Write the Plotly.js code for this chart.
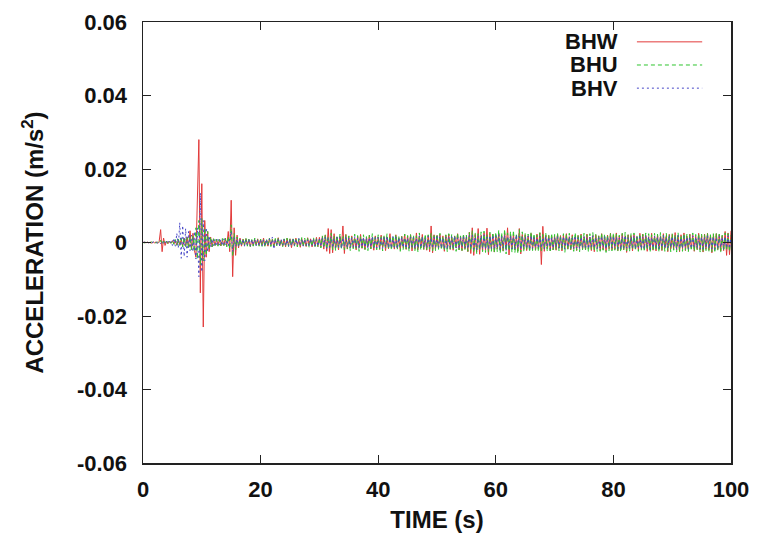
<!DOCTYPE html>
<html>
<head>
<meta charset="utf-8">
<script src="https://cdn.plot.ly/plotly-3.0.1.min.js"></script>
<style>
  html, body { margin: 0; padding: 0; background: #fff; }
  #chart { width: 757px; height: 534px; }
</style>
</head>
<body>
<div id="chart"></div>
<script>
// Time axis (s), 0.25 s sampling
const TIME = [
  0, 0.25, 0.5, 0.75, 1, 1.25, 1.5, 1.75, 2, 2.25, 2.5, 2.75, 3, 3.25, 3.5, 3.75, 4, 4.25, 4.5, 4.75,
  5, 5.25, 5.5, 5.75, 6, 6.25, 6.5, 6.75, 7, 7.25, 7.5, 7.75, 8, 8.25, 8.5, 8.75, 9, 9.25, 9.5, 9.75,
  10, 10.25, 10.5, 10.75, 11, 11.25, 11.5, 11.75, 12, 12.25, 12.5, 12.75, 13, 13.25, 13.5, 13.75, 14, 14.25, 14.5, 14.75,
  15, 15.25, 15.5, 15.75, 16, 16.25, 16.5, 16.75, 17, 17.25, 17.5, 17.75, 18, 18.25, 18.5, 18.75, 19, 19.25, 19.5, 19.75,
  20, 20.25, 20.5, 20.75, 21, 21.25, 21.5, 21.75, 22, 22.25, 22.5, 22.75, 23, 23.25, 23.5, 23.75, 24, 24.25, 24.5, 24.75,
  25, 25.25, 25.5, 25.75, 26, 26.25, 26.5, 26.75, 27, 27.25, 27.5, 27.75, 28, 28.25, 28.5, 28.75, 29, 29.25, 29.5, 29.75,
  30, 30.25, 30.5, 30.75, 31, 31.25, 31.5, 31.75, 32, 32.25, 32.5, 32.75, 33, 33.25, 33.5, 33.75, 34, 34.25, 34.5, 34.75,
  35, 35.25, 35.5, 35.75, 36, 36.25, 36.5, 36.75, 37, 37.25, 37.5, 37.75, 38, 38.25, 38.5, 38.75, 39, 39.25, 39.5, 39.75,
  40, 40.25, 40.5, 40.75, 41, 41.25, 41.5, 41.75, 42, 42.25, 42.5, 42.75, 43, 43.25, 43.5, 43.75, 44, 44.25, 44.5, 44.75,
  45, 45.25, 45.5, 45.75, 46, 46.25, 46.5, 46.75, 47, 47.25, 47.5, 47.75, 48, 48.25, 48.5, 48.75, 49, 49.25, 49.5, 49.75,
  50, 50.25, 50.5, 50.75, 51, 51.25, 51.5, 51.75, 52, 52.25, 52.5, 52.75, 53, 53.25, 53.5, 53.75, 54, 54.25, 54.5, 54.75,
  55, 55.25, 55.5, 55.75, 56, 56.25, 56.5, 56.75, 57, 57.25, 57.5, 57.75, 58, 58.25, 58.5, 58.75, 59, 59.25, 59.5, 59.75,
  60, 60.25, 60.5, 60.75, 61, 61.25, 61.5, 61.75, 62, 62.25, 62.5, 62.75, 63, 63.25, 63.5, 63.75, 64, 64.25, 64.5, 64.75,
  65, 65.25, 65.5, 65.75, 66, 66.25, 66.5, 66.75, 67, 67.25, 67.5, 67.75, 68, 68.25, 68.5, 68.75, 69, 69.25, 69.5, 69.75,
  70, 70.25, 70.5, 70.75, 71, 71.25, 71.5, 71.75, 72, 72.25, 72.5, 72.75, 73, 73.25, 73.5, 73.75, 74, 74.25, 74.5, 74.75,
  75, 75.25, 75.5, 75.75, 76, 76.25, 76.5, 76.75, 77, 77.25, 77.5, 77.75, 78, 78.25, 78.5, 78.75, 79, 79.25, 79.5, 79.75,
  80, 80.25, 80.5, 80.75, 81, 81.25, 81.5, 81.75, 82, 82.25, 82.5, 82.75, 83, 83.25, 83.5, 83.75, 84, 84.25, 84.5, 84.75,
  85, 85.25, 85.5, 85.75, 86, 86.25, 86.5, 86.75, 87, 87.25, 87.5, 87.75, 88, 88.25, 88.5, 88.75, 89, 89.25, 89.5, 89.75,
  90, 90.25, 90.5, 90.75, 91, 91.25, 91.5, 91.75, 92, 92.25, 92.5, 92.75, 93, 93.25, 93.5, 93.75, 94, 94.25, 94.5, 94.75,
  95, 95.25, 95.5, 95.75, 96, 96.25, 96.5, 96.75, 97, 97.25, 97.5, 97.75, 98, 98.25, 98.5, 98.75, 99, 99.25, 99.5, 99.75,
  100
];

// Acceleration (m/s^2), channel BHW
const BHW = [
  0, 0.0001, -0.0001, 0.0001, -0.0001, 0.0001, -0.0002, 0.0001, -0.0001, 0.0002, -0.0002, 0.0003, 0.0035, -0.0025, 0.0012, -0.0008, 0.0004, -0.0003, 0.0003, -0.0002,
  0.0005, -0.0004, 0.0006, -0.0007, 0.0008, -0.0006, 0.0009, -0.0011, 0.0012, -0.001, 0.0015, -0.0013, 0.0032, -0.0018, 0.0025, -0.0022, -0.004, 0.012, 0.028, -0.0137,
  0.016, -0.023, 0.006, -0.004, 0.003, -0.0025, 0.0015, -0.0012, 0.001, -0.0008, 0.0009, -0.0007, 0.0008, -0.0009, 0.0007, -0.0008, 0.0012, -0.0009, 0.003, -0.0025,
  0.0115, -0.0093, 0.004, -0.0035, 0.002, -0.0015, 0.0012, -0.001, 0.0009, -0.0008, 0.001, -0.0007, 0.0008, -0.0011, 0.0007, -0.0009, 0.0008, -0.0006, 0.001, -0.0008,
  0.0009, -0.0007, 0.0012, -0.0009, 0.0006, -0.001, 0.0011, -0.0008, 0.0009, -0.0012, 0.0008, -0.0007, 0.0013, -0.0009, 0.0007, -0.001, 0.0009, -0.0012, 0.0011, -0.0008,
  0.001, -0.0014, 0.0009, -0.0008, 0.0012, -0.001, 0.0008, -0.0013, 0.0011, -0.0009, 0.0007, -0.0011, 0.0013, -0.0008, 0.001, -0.0012, 0.0009, -0.001, 0.0014, -0.0011,
  0.0014, -0.0012, 0.0016, -0.0018, 0.002, -0.0024, 0.0038, -0.003, 0.0035, -0.0028, 0.0024, -0.0016, 0.0015, -0.002, 0.0017, -0.0013, 0.0045, -0.003, 0.0022, -0.0018,
  0.0016, -0.0013, 0.0018, -0.0015, 0.0012, -0.002, 0.0017, -0.0014, 0.0022, -0.0016, 0.0011, -0.0019, 0.0015, -0.0012, 0.002, -0.0017, 0.0013, -0.0021, 0.0018, -0.0014,
  0.0015, -0.0019, 0.002, -0.0013, 0.0016, -0.0022, 0.0014, -0.0017, 0.0024, -0.0015, 0.0012, -0.0018, 0.0021, -0.0016, 0.0013, -0.002, 0.0017, -0.0014, 0.0023, -0.0019,
  0.0018, -0.0016, 0.0021, -0.0023, 0.0015, -0.0018, 0.0026, -0.002, 0.0017, -0.0015, 0.0022, -0.0019, 0.0014, -0.0021, 0.0019, -0.0025, 0.0045, -0.0028, 0.0021, -0.0017,
  0.0019, -0.0017, 0.0022, -0.0015, 0.0018, -0.0024, 0.002, -0.0016, 0.0023, -0.0019, 0.0015, -0.0021, 0.0018, -0.0014, 0.0024, -0.002, 0.0016, -0.0022, 0.0019, -0.0018,
  0.0017, -0.0025, 0.0028, -0.003, 0.004, -0.0035, 0.0022, -0.0026, 0.0038, -0.0032, 0.002, -0.0023, 0.0027, -0.0021, 0.0039, -0.0033, 0.0024, -0.0019, 0.0022, -0.0026,
  0.002, -0.0018, 0.0024, -0.0021, 0.0017, -0.0023, 0.0026, -0.0019, 0.004, -0.0034, 0.0021, -0.0018, 0.0023, -0.002, 0.0017, -0.0024, 0.0038, -0.0031, 0.0022, -0.0019,
  0.0021, -0.0022, 0.0018, -0.002, 0.0025, -0.0019, 0.0016, -0.0021, 0.0023, -0.0018, 0.0026, -0.006, 0.0044, -0.0024, 0.002, -0.0017, 0.0019, -0.0022, 0.0016, -0.002,
  0.0018, -0.0021, 0.0022, -0.0016, 0.0019, -0.0023, 0.002, -0.0015, 0.0024, -0.0018, 0.0016, -0.002, 0.0021, -0.0017, 0.0015, -0.0022, 0.0019, -0.0016, 0.0023, -0.0019,
  0.0016, -0.002, 0.0023, -0.0017, 0.0015, -0.0022, 0.0019, -0.0025, 0.0021, -0.0016, 0.0018, -0.0021, 0.0024, -0.0019, 0.0016, -0.0023, 0.002, -0.0017, 0.0025, -0.002,
  0.002, -0.0018, 0.0026, -0.0022, 0.0017, -0.0019, 0.0024, -0.002, 0.0018, -0.0027, 0.0021, -0.0016, 0.0019, -0.0023, 0.0022, -0.0018, 0.0016, -0.0021, 0.0025, -0.0019,
  0.0023, -0.0017, 0.002, -0.0024, 0.0016, -0.0019, 0.0025, -0.0021, 0.0018, -0.0023, 0.0021, -0.0018, 0.0017, -0.0022, 0.0024, -0.0016, 0.0019, -0.0025, 0.0022, -0.0018,
  0.0022, -0.0018, 0.0027, -0.002, 0.0019, -0.0025, 0.0021, -0.0017, 0.0026, -0.0022, 0.0018, -0.0021, 0.0023, -0.0016, 0.002, -0.0024, 0.0017, -0.0019, 0.0025, -0.002,
  0.0019, -0.0026, 0.0023, -0.0018, 0.0025, -0.0021, 0.002, -0.0028, 0.0022, -0.0017, 0.0024, -0.0019, 0.0021, -0.0023, 0.0018, -0.0022, 0.003, -0.0035, 0.0026, -0.0033,
  0.0032
];

// Acceleration (m/s^2), channel BHU
const BHU = [
  0, -0.0001, 0.0001, -0.0001, 0.0001, -0.0001, 0.0002, -0.0001, 0.0001, -0.0002, 0.0002, -0.0002, 0.0006, -0.0005, 0.0004, -0.0003, 0.0003, -0.0004, 0.0003, -0.0002,
  0.0006, -0.0005, 0.0008, -0.0008, 0.001, -0.0009, 0.0012, -0.0012, 0.0014, -0.0011, 0.0013, -0.0016, 0.0016, -0.002, 0.0018, -0.0025, 0.004, -0.0045, 0.006, -0.006,
  0.0065, -0.005, 0.004, -0.0035, 0.003, -0.002, 0.0015, -0.0012, 0.001, -0.0008, 0.0009, -0.001, 0.0008, -0.0009, 0.0011, -0.0008, 0.0011, -0.0012, 0.0016, -0.0018,
  0.0048, -0.0038, 0.0025, -0.002, 0.0015, -0.0012, 0.001, -0.0009, 0.0011, -0.0008, 0.0012, -0.001, 0.0009, -0.0011, 0.0008, -0.001, 0.0012, -0.0009, 0.0008, -0.001,
  0.0009, -0.0011, 0.0008, -0.0013, 0.001, -0.0009, 0.0012, -0.0011, 0.0008, -0.001, 0.0011, -0.0009, 0.0013, -0.001, 0.0009, -0.0012, 0.001, -0.0008, 0.0012, -0.0011,
  0.0011, -0.0009, 0.0013, -0.001, 0.0009, -0.0012, 0.001, -0.0008, 0.0014, -0.0011, 0.0012, -0.0009, 0.0011, -0.0013, 0.0009, -0.001, 0.0013, -0.0011, 0.001, -0.0012,
  0.0012, -0.0015, 0.0018, -0.0014, 0.0022, -0.0019, 0.0016, -0.0013, 0.0025, -0.002, 0.0017, -0.0022, 0.0019, -0.0015, 0.0023, -0.0018, 0.0016, -0.002, 0.0021, -0.0017,
  0.0018, -0.0022, 0.0015, -0.0017, 0.0023, -0.0016, 0.0019, -0.0024, 0.0017, -0.0015, 0.0021, -0.0019, 0.0016, -0.0022, 0.002, -0.0017, 0.0024, -0.0018, 0.0015, -0.002,
  0.0021, -0.0018, 0.0016, -0.0023, 0.002, -0.0015, 0.0024, -0.0019, 0.0017, -0.0021, 0.0019, -0.0016, 0.0022, -0.002, 0.0018, -0.0024, 0.0016, -0.0019, 0.0023, -0.0017,
  0.0019, -0.0024, 0.0022, -0.0016, 0.002, -0.0022, 0.0018, -0.0025, 0.0026, -0.0021, 0.0017, -0.0019, 0.0023, -0.002, 0.0021, -0.0018, 0.0025, -0.0023, 0.0019, -0.0022,
  0.0023, -0.0019, 0.0025, -0.002, 0.0017, -0.0023, 0.0021, -0.0026, 0.0024, -0.0018, 0.0022, -0.0021, 0.0019, -0.0024, 0.0026, -0.002, 0.0018, -0.0022, 0.0024, -0.0019,
  0.002, -0.0024, 0.0027, -0.0022, 0.0032, -0.0028, 0.0026, -0.003, 0.0024, -0.0022, 0.0029, -0.0025, 0.0031, -0.0027, 0.0023, -0.0026, 0.0028, -0.0024, 0.0027, -0.0029,
  0.0028, -0.0025, 0.0034, -0.0029, 0.0027, -0.0024, 0.0036, -0.0031, 0.0026, -0.0023, 0.003, -0.0027, 0.0033, -0.0028, 0.0025, -0.003, 0.0035, -0.0026, 0.0029, -0.0024,
  0.0025, -0.002, 0.0023, -0.0026, 0.0029, -0.0022, 0.0024, -0.0021, 0.002, -0.0025, 0.0027, -0.0023, 0.0022, -0.0019, 0.0026, -0.0024, 0.0021, -0.0023, 0.0025, -0.002,
  0.0022, -0.0019, 0.0026, -0.0023, 0.002, -0.0021, 0.0024, -0.0027, 0.0023, -0.002, 0.0025, -0.0022, 0.0019, -0.0024, 0.0027, -0.0021, 0.0022, -0.0025, 0.0024, -0.002,
  0.0025, -0.0022, 0.0021, -0.0026, 0.0024, -0.002, 0.0027, -0.0023, 0.0022, -0.0025, 0.002, -0.0024, 0.0026, -0.0021, 0.0023, -0.0027, 0.0021, -0.0022, 0.0025, -0.0023,
  0.0026, -0.0021, 0.0023, -0.0024, 0.002, -0.0026, 0.0025, -0.0022, 0.0028, -0.0023, 0.0021, -0.0025, 0.0024, -0.002, 0.0026, -0.0022, 0.0019, -0.0024, 0.0023, -0.0021,
  0.0022, -0.0025, 0.0026, -0.002, 0.0024, -0.0027, 0.0021, -0.0023, 0.0025, -0.0022, 0.0023, -0.0026, 0.0027, -0.0021, 0.002, -0.0024, 0.0025, -0.0023, 0.0022, -0.0025,
  0.0024, -0.0021, 0.0022, -0.0026, 0.0027, -0.0023, 0.002, -0.0024, 0.0025, -0.0021, 0.0023, -0.0025, 0.0021, -0.0022, 0.0026, -0.0024, 0.0022, -0.002, 0.0024, -0.0026,
  0.0023, -0.0026, 0.0021, -0.0022, 0.0026, -0.0024, 0.0022, -0.0025, 0.0024, -0.0028, 0.0025, -0.0021, 0.0023, -0.0027, 0.002, -0.0023, 0.0026, -0.0022, 0.0024, -0.0025,
  0.002
];

// Acceleration (m/s^2), channel BHV
const BHV = [
  0, 0.0001, -0.0001, 0.0001, -0.0001, 0.0001, -0.0001, 0.0002, -0.0001, 0.0001, -0.0002, 0.0002, -0.0003, 0.0004, -0.0003, 0.0003, -0.0003, 0.0004, -0.0004, 0.0003,
  -0.0008, 0.0012, -0.001, 0.0025, -0.0015, 0.0054, -0.0043, 0.0046, -0.0038, 0.0038, -0.004, 0.003, -0.0022, 0.002, -0.0025, 0.003, -0.0045, 0.004, -0.0093, 0.0135,
  -0.008, 0.006, -0.005, 0.004, -0.0025, 0.0018, -0.0012, 0.001, -0.0009, 0.0008, -0.001, 0.0009, -0.0007, 0.0008, -0.0009, 0.001, -0.0008, 0.0007, -0.001, 0.0012,
  0.003, -0.0025, 0.0015, -0.0012, 0.001, -0.0009, 0.0008, -0.0007, 0.0009, -0.001, 0.0007, -0.0008, 0.001, -0.0009, 0.0008, -0.0007, 0.0009, -0.0008, 0.0007, -0.0009,
  0.0008, -0.0009, 0.0007, -0.0008, 0.0009, -0.0007, 0.001, -0.0008, 0.0015, -0.0018, 0.0009, -0.0007, 0.0008, -0.001, 0.0009, -0.0007, 0.0008, -0.0009, 0.0007, -0.001,
  0.0007, -0.0009, 0.001, -0.0008, 0.0009, -0.0007, 0.0011, -0.0009, 0.0008, -0.001, 0.0009, -0.0008, 0.0007, -0.0009, 0.001, -0.0008, 0.0009, -0.0011, 0.0008, -0.001,
  0.0009, -0.0011, 0.0013, -0.001, 0.0015, -0.0016, 0.0012, -0.0013, 0.0016, -0.0014, 0.0011, -0.0013, 0.0015, -0.0012, 0.0014, -0.0016, 0.0013, -0.0011, 0.0015, -0.0013,
  0.0012, -0.0015, 0.0013, -0.0011, 0.0016, -0.0014, 0.0012, -0.0017, 0.0013, -0.0012, 0.0015, -0.0013, 0.0011, -0.0016, 0.0014, -0.0012, 0.0017, -0.0014, 0.0013, -0.0015,
  0.0014, -0.0013, 0.0011, -0.0016, 0.0015, -0.0012, 0.0017, -0.0014, 0.0012, -0.0015, 0.0016, -0.0013, 0.0014, -0.0017, 0.0013, -0.0011, 0.0015, -0.0014, 0.0012, -0.0016,
  0.0013, -0.0016, 0.0015, -0.0012, 0.0014, -0.0017, 0.0013, -0.0015, 0.0018, -0.0014, 0.0016, -0.0013, 0.0012, -0.0015, 0.0017, -0.0014, 0.0013, -0.0016, 0.0015, -0.0012,
  0.0016, -0.0013, 0.0017, -0.0015, 0.0012, -0.0016, 0.0014, -0.0018, 0.0015, -0.0013, 0.0016, -0.0014, 0.0018, -0.0015, 0.0013, -0.0017, 0.0015, -0.0012, 0.0016, -0.0014,
  0.0014, -0.0017, 0.0019, -0.0015, 0.002, -0.0018, 0.0016, -0.002, 0.0017, -0.0015, 0.0018, -0.0016, 0.0021, -0.0017, 0.0015, -0.0019, 0.0018, -0.0016, 0.002, -0.0017,
  0.0018, -0.0016, 0.0021, -0.0019, 0.0017, -0.0015, 0.002, -0.0022, 0.0016, -0.0014, 0.0019, -0.0017, 0.0015, -0.0018, 0.0021, -0.0016, 0.0017, -0.002, 0.0016, -0.0015,
  0.0015, -0.0013, 0.0017, -0.0018, 0.0019, -0.0016, 0.0015, -0.0014, 0.0013, -0.0016, 0.0017, -0.0015, 0.0014, -0.0017, 0.0016, -0.0013, 0.0015, -0.0018, 0.0014, -0.0016,
  0.0014, -0.0012, 0.0016, -0.0015, 0.0013, -0.0014, 0.0017, -0.0018, 0.0015, -0.0013, 0.0016, -0.0014, 0.0012, -0.0016, 0.0018, -0.0015, 0.0013, -0.0017, 0.0015, -0.0014,
  0.0016, -0.0014, 0.0013, -0.0017, 0.0015, -0.0012, 0.0018, -0.0015, 0.0014, -0.0016, 0.0013, -0.0015, 0.0017, -0.0013, 0.0016, -0.0018, 0.0014, -0.0012, 0.0016, -0.0015,
  0.0017, -0.0013, 0.0015, -0.0016, 0.0012, -0.0018, 0.0016, -0.0014, 0.0019, -0.0015, 0.0013, -0.0017, 0.0015, -0.0014, 0.0018, -0.0016, 0.0014, -0.0013, 0.0016, -0.0018,
  0.0014, -0.0017, 0.0018, -0.0013, 0.0016, -0.0019, 0.0014, -0.0015, 0.0017, -0.0014, 0.0015, -0.0018, 0.0016, -0.0013, 0.0019, -0.0016, 0.0014, -0.0015, 0.0017, -0.0013,
  0.0016, -0.0013, 0.0015, -0.0018, 0.0019, -0.0015, 0.0013, -0.0016, 0.0017, -0.0014, 0.0015, -0.0017, 0.0014, -0.0016, 0.0018, -0.0013, 0.0016, -0.0015, 0.0013, -0.0017,
  0.0015, -0.0018, 0.0014, -0.0015, 0.0018, -0.0016, 0.0015, -0.0017, 0.0016, -0.0019, 0.0014, -0.0016, 0.0017, -0.0013, 0.0015, -0.0018, 0.0016, -0.0014, 0.0018, -0.0016,
  0.0013
];

const SERIES_NAMES = ['BHW', 'BHU', 'BHV'];
const X_TICKS = [0, 20, 40, 60, 80, 100];
const Y_TICKS = [-0.06, -0.04, -0.02, 0, 0.02, 0.04, 0.06];
const Y_TICK_TEXT = ['-0.06', '-0.04', '-0.02', '0', '0.02', '0.04', '0.06'];

const COLORS = ['#e23a3a', '#2ec42e', '#4646c8'];
const DASHES = ['solid', '4px,3px', '2px,3px'];
const VALUES = [BHW, BHU, BHV];

const FONT = 'Liberation Sans, Arial, Helvetica, sans-serif';
const boldFont = (size) => ({ family: FONT, size: size, color: '#111', weight: 'bold' });

const traces = SERIES_NAMES.map((name, i) => ({
  type: 'scatter',
  mode: 'lines',
  name: name,
  x: TIME,
  y: VALUES[i],
  line: { color: COLORS[i], width: 1, dash: DASHES[i] },
  showlegend: false
}));

// gnuplot-style key: label text on the left, line sample on the right
const keyRowsY = [0.955, 0.9025, 0.85];
const annotations = SERIES_NAMES.map((name, i) => ({
  xref: 'paper', yref: 'paper',
  x: 0.811, y: keyRowsY[i],
  xanchor: 'right', yanchor: 'middle',
  text: name, showarrow: false,
  font: boldFont(22)
}));
const shapes = SERIES_NAMES.map((name, i) => ({
  type: 'line', xref: 'paper', yref: 'paper',
  x0: 0.840, x1: 0.951, y0: keyRowsY[i], y1: keyRowsY[i],
  line: { color: COLORS[i], width: 1, dash: DASHES[i] }
}));

const axisCommon = {
  showline: true, linecolor: '#222', linewidth: 1.5,
  mirror: 'allticks', ticks: 'inside', ticklen: 8, tickwidth: 1, tickcolor: '#222',
  showgrid: false, zeroline: false,
  tickfont: boldFont(22)
};

const layout = {
  width: 757, height: 534,
  margin: { l: 143, r: 26, t: 22, b: 71, pad: 0 },
  paper_bgcolor: '#fff', plot_bgcolor: '#fff',
  showlegend: false,
  xaxis: Object.assign({}, axisCommon, {
    range: [0, 100], tickvals: X_TICKS, ticktext: X_TICKS.map(String),
    ticklabelstandoff: 6,
    title: { text: 'TIME (s)', font: boldFont(24), standoff: 10 }
  }),
  yaxis: Object.assign({}, axisCommon, {
    range: [-0.06, 0.06], tickvals: Y_TICKS, ticktext: Y_TICK_TEXT,
    ticklabelstandoff: 10,
    title: { text: 'ACCELERATION (m/s<sup>2</sup>)', font: boldFont(24), standoff: 26 }
  }),
  annotations: annotations,
  shapes: shapes
};

Plotly.newPlot('chart', traces, layout, { displayModeBar: false, staticPlot: true });
</script>
</body>
</html>
